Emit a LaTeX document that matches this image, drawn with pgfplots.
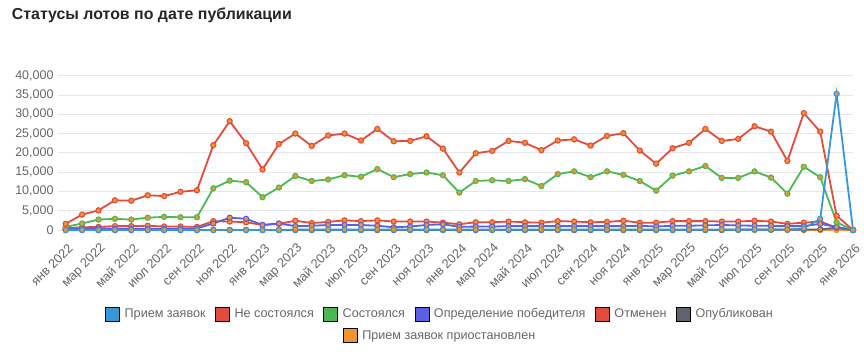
\documentclass[border=0pt]{standalone}
\usepackage{pgfplots}
\pgfplotsset{compat=1.18}
\usepackage{pgfplotstable}
\usepackage{fontspec}
\setmainfont{Liberation Sans}
\definecolor{cpz}{HTML}{3498DB}
\definecolor{cred}{HTML}{E34B3D}
\definecolor{cgreen}{HTML}{4CB853}
\definecolor{cpurple}{HTML}{5A5FE6}
\definecolor{cgray}{HTML}{5D6470}
\definecolor{corange}{HTML}{F0962E}
\definecolor{ctext}{HTML}{666666}
\definecolor{cgrid}{HTML}{E6E6E6}
\pgfplotstableread{
i pz ns st op ot pub pp
0 0 1600 800 300 500 0 0
1 0 4000 1700 300 700 0 0
2 0 5100 2700 400 800 0 0
3 0 7700 2900 300 1000 0 0
4 0 7600 2700 300 1000 0 0
5 0 9000 3200 300 1100 0 0
6 0 8800 3400 300 900 0 0
7 0 9900 3300 300 900 0 0
8 0 10300 3300 400 800 0 0
9 0 22000 10800 1700 2300 0 0
10 0 28200 12800 3200 2200 0 0
11 0 22500 12400 2900 2000 0 0
12 0 15700 8500 1300 1300 0 0
13 0 22300 11000 1700 1600 0 0
14 100 25000 14000 1000 2400 0 0
15 100 21800 12700 1100 1800 0 0
16 100 24500 13100 1300 2100 0 0
17 100 25000 14200 1300 2500 0 0
18 100 23200 13800 1300 2300 0 0
19 100 26200 15800 1100 2500 0 0
20 100 23000 13700 700 2200 0 0
21 100 23100 14500 900 2200 0 0
22 100 24300 14900 1300 2200 0 0
23 100 21100 14200 1500 1900 0 0
24 100 14900 9700 800 1500 0 0
25 100 19900 12700 900 2000 0 0
26 100 20500 12900 900 2000 0 0
27 100 23100 12700 1000 2200 0 0
28 100 22600 13200 1000 2000 0 0
29 100 20700 11400 1000 1900 0 0
30 100 23200 14500 1000 2300 0 0
31 100 23500 15200 1000 2200 0 0
32 100 21900 13700 1000 2000 0 0
33 100 24400 15200 1000 2100 0 0
34 100 25100 14300 1000 2400 0 0
35 100 20600 12700 1100 1900 0 0
36 100 17200 10200 900 1900 0 0
37 100 21200 14100 1100 2300 0 0
38 100 22600 15200 1100 2300 0 0
39 100 26200 16600 1200 2300 0 0
40 100 23100 13500 1300 2200 0 0
41 100 23600 13500 1200 2200 100 0
42 100 26900 15200 1100 2400 100 0
43 100 25500 13600 1100 2200 100 0
44 100 17900 9400 1000 1600 100 0
45 400 30300 16400 1000 1900 100 0
46 2900 25500 13700 1600 2200 150 0
47 35300 3700 2000 800 600 600 0
48 0 0 0 0 0 0 0
}\data
\pgfplotsset{
  series/.style={forget plot, line width=1.8pt, color=#1, mark=*, mark size=2.6pt,
    mark options={fill=corange, draw=#1, line width=1.1pt, solid}},
  legbox/.style={
    legend image code/.code={\fill[##1] (0pt,-7pt) rectangle (14pt,7pt);},
  },
}
\begin{document}
\begin{tikzpicture}[x=1pt,y=1pt]
\useasboundingbox (0,0) rectangle (864,351);
\node[anchor=base west, inner sep=0pt, font=\fontsize{15.9}{18}\selectfont\bfseries, text=black!85] at (11.7,331.7) {Статусы лотов по дате публикации};
\begin{axis}[
  at={(57.7pt,121pt)}, anchor=south west, scale only axis,
  width=795.3pt, height=154.3pt,
  xmin=-0.488, xmax=48, ymin=0, ymax=40000,
  clip=false,
  axis line style={draw=none}, tick style={draw=none},
  ymajorgrids, grid style={cgrid, line width=0.8pt},
  ytick={0,5000,...,40000}, scaled y ticks=false,
  /pgf/number format/1000 sep={,},
  /pgf/number format/assume math mode=true,
  yticklabel style={font=\fontsize{12.5}{14}\selectfont, text=ctext, anchor=east, inner sep=0pt, xshift=-4pt},
  xtick={0,2,...,48},
  xticklabels={янв 2022, мар 2022, май 2022, июл 2022, сен 2022, ноя 2022,
    янв 2023, мар 2023, май 2023, июл 2023, сен 2023, ноя 2023,
    янв 2024, мар 2024, май 2024, июл 2024, сен 2024, ноя 2024,
    янв 2025, мар 2025, май 2025, июл 2025, сен 2025, ноя 2025, янв 2026},
  xticklabel style={font=\fontsize{12.8}{14}\selectfont, text=ctext, inner sep=0pt, xshift=5pt, yshift=-16pt, rotate=45, anchor=east},
  legbox,
  legend columns=6,
  legend style={at={(0.4795,-0.545)}, anchor=center, draw=none, fill=none,
    font=\fontsize{12.6}{15}\selectfont, text=ctext,
    nodes={inner sep=0pt},
    /tikz/every odd column/.append style={column sep=5pt},
    /tikz/every even column/.append style={column sep=9.5pt}},
]
\addplot[series=corange] table[x=i,y=pp]{\data};
\addplot[series=cgray] table[x=i,y=pub]{\data};
\addplot[series=cred] table[x=i,y=ot]{\data};
\addplot[series=cpurple] table[x=i,y=op]{\data};
\addplot[series=cgreen] table[x=i,y=st]{\data};
\addplot[series=cred] table[x=i,y=ns]{\data};
\addplot[series=cpz] table[x=i,y=pz]{\data};
\addlegendimage{fill=cpz}\addlegendentry{Прием заявок}
\addlegendimage{fill=cred}\addlegendentry{Не состоялся}
\addlegendimage{fill=cgreen}\addlegendentry{Состоялся}
\addlegendimage{fill=cpurple}\addlegendentry{Определение победителя}
\addlegendimage{fill=cred}\addlegendentry{Отменен}
\addlegendimage{fill=cgray}\addlegendentry{Опубликован}
\end{axis}
\begin{axis}[
  at={(57.7pt,121pt)}, anchor=south west, scale only axis,
  width=795.3pt, height=154.3pt,
  xmin=0, xmax=1, ymin=0, ymax=1, hide axis,
  legbox,
  legend style={at={(0.4795,-0.684)}, anchor=center, draw=none, fill=none,
    font=\fontsize{12.6}{15}\selectfont, text=ctext,
    nodes={inner sep=0pt},
    /tikz/every odd column/.append style={column sep=5pt}},
]
\addlegendimage{fill=corange}\addlegendentry{Прием заявок приостановлен}
\end{axis}
\end{tikzpicture}
\end{document}
